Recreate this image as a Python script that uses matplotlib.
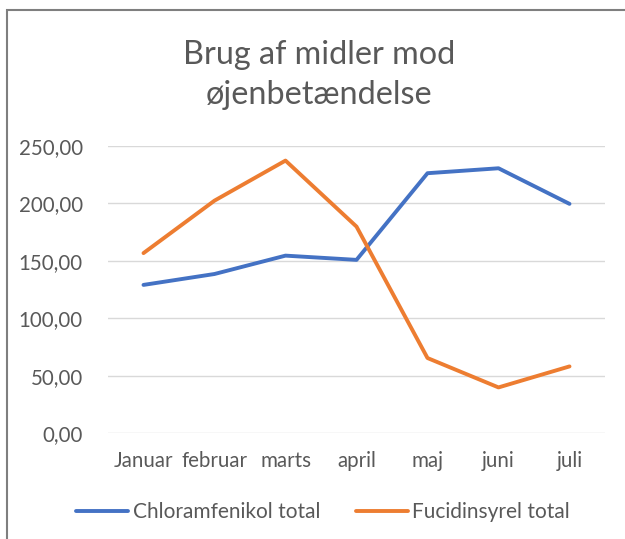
import matplotlib.pyplot as plt
from matplotlib.patches import Rectangle
from matplotlib.ticker import FuncFormatter

months = ["Januar", "februar", "marts", "april", "maj", "juni", "juli"]
chloramfenikol = [129, 138.5, 154.5, 150.8, 226.3, 230.6, 199.6]
fucidinsyre = [156.7, 202.4, 237.3, 179.8, 65.3, 39.7, 58]

plt.rcParams['font.family'] = ['Lato', 'DejaVu Sans']
txt = '#595959'

fig = plt.figure(figsize=(6.25, 5.39), dpi=100)
fig.patches.append(Rectangle((7 / 625, -0.1), 1.1, 1 - 10 / 539 + 0.1,
                             transform=fig.transFigure, fill=False,
                             edgecolor='#7f7f7f', lw=1.5))

ax = fig.add_axes([108 / 625, 1 - 433 / 539, (605 - 108) / 625, (433 - 146) / 539])
x = range(len(months))
ax.plot(x, chloramfenikol, color='#4472C4', lw=2.8, solid_capstyle='round',
        label='Chloramfenikol total')
ax.plot(x, fucidinsyre, color='#ED7D31', lw=2.8, solid_capstyle='round',
        label='Fucidinsyrel total')

ax.set_xlim(-0.5, len(months) - 0.5)
ax.set_ylim(0, 250)
ax.set_yticks([0, 50, 100, 150, 200, 250])
ax.yaxis.set_major_formatter(FuncFormatter(lambda v, p: f"{v:.2f}".replace('.', ',')))
ax.set_xticks(list(x))
ax.set_xticklabels(months)
ax.grid(axis='y', color='#D9D9D9', lw=1)
ax.set_axisbelow(True)
for s in ax.spines.values():
    s.set_visible(False)
ax.tick_params(length=0, labelsize=14.8, colors=txt)
ax.tick_params(axis='y', pad=18)
ax.tick_params(axis='x', pad=13)

fig.text(319 / 625, 1 - 75 / 539, "Brug af midler mod\nøjenbetændelse",
         ha='center', va='center', fontsize=23.3, color=txt, linespacing=1.42)

leg = fig.legend(loc='center', bbox_to_anchor=(323 / 625, 1 - 512 / 539), ncol=2,
                 frameon=False, fontsize=15, handlelength=2.5,
                 handletextpad=0.2, columnspacing=1.7)
for t in leg.get_texts():
    t.set_color(txt)

fig.savefig('out.png', dpi=100)
